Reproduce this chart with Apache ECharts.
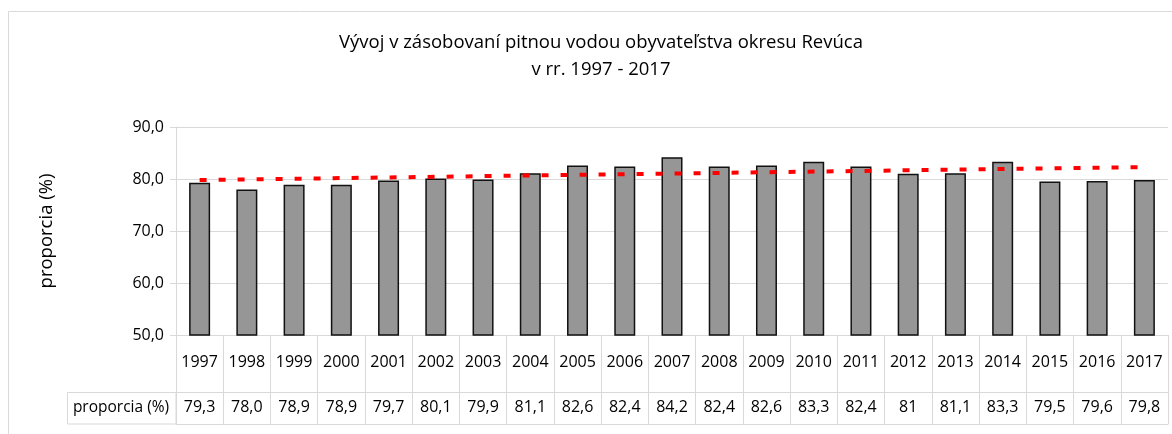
<!DOCTYPE html>
<html><head><meta charset="utf-8">
<script src="https://cdn.jsdelivr.net/npm/echarts@6/dist/echarts.min.js"></script>
<style>html,body{margin:0;padding:0;background:#fff}#c{width:1172px;height:434px}</style>
</head><body><div id="c"></div>
<script>
var years = ['1997','1998','1999','2000','2001','2002','2003','2004','2005','2006','2007','2008','2009','2010','2011','2012','2013','2014','2015','2016','2017'];
var values = [79.3,78.0,78.9,78.9,79.7,80.1,79.9,81.1,82.6,82.4,84.2,82.4,82.6,83.3,82.4,81,81.1,83.3,79.5,79.6,79.8];
var valueLabels = ['79,3','78,0','78,9','78,9','79,7','80,1','79,9','81,1','82,6','82,4','84,2','82,4','82,6','83,3','82,4','81','81,1','83,3','79,5','79,6','79,8'];
var trendStart = 79.8;
var trendEnd = 82.3;
var yTicks = [50, 60, 70, 80, 90];
var seriesName = 'proporcia (%)';
var titleText = 'Vývoj v zásobovaní pitnou vodou obyvateľstva okresu Revúca\nv rr. 1997 - 2017';

var trend = years.map(function(_, i){ return i === 0 ? trendStart : (i === years.length - 1 ? trendEnd : null); });
var FONT = 'Open Sans';
var grey = '#d9d9d9';
var chart = echarts.init(document.getElementById('c'));
chart.setOption({
  animation: false,
  textStyle: {fontFamily: FONT},
  title: {text: titleText, left: 596, top: 24, textAlign: 'center',
    textStyle: {fontFamily: FONT, fontSize: 18.5, fontWeight: 'normal', color: '#000', lineHeight: 27}},
  grid: {left: 176, right: 4, top: 127, bottom: 99},
  xAxis: [
    {type: 'category', data: years, position: 'bottom',
     axisLine: {show: true, lineStyle: {color: grey, width: 1}},
     axisTick: {show: true, interval: 0, length: 57, lineStyle: {color: grey}},
     axisLabel: {interval: 0, margin: 19, fontSize: 16, color: '#000', fontFamily: FONT}},
    {type: 'category', data: valueLabels, position: 'bottom', offset: 57,
     axisLine: {show: true, lineStyle: {color: grey, width: 1}},
     axisTick: {show: true, interval: 0, length: 32, lineStyle: {color: grey}},
     axisLabel: {interval: 0, margin: 7, fontSize: 16, color: '#000', fontFamily: FONT}},
    {type: 'category', data: years, position: 'bottom', offset: 89,
     axisLine: {show: true, lineStyle: {color: grey, width: 1}},
     axisTick: {show: false}, axisLabel: {show: false}}
  ],
  yAxis: {type: 'value', min: yTicks[0], max: yTicks[yTicks.length-1], interval: 10,
    name: seriesName, nameLocation: 'middle', nameGap: 120,
    nameTextStyle: {fontSize: 18.5, color: '#000', fontFamily: FONT},
    axisLine: {show: true, lineStyle: {color: grey}},
    axisTick: {show: true, length: 6, lineStyle: {color: grey}},
    axisLabel: {fontSize: 16, color: '#000', margin: 12, fontFamily: FONT,
      formatter: function(v){ return v.toFixed(1).replace('.', ','); }},
    splitLine: {show: true, lineStyle: {color: grey, width: 1}}},
  series: [
    {name: seriesName, type: 'bar', data: values, xAxisIndex: 0, barWidth: 21,
     itemStyle: {color: '#969696', borderColor: '#111', borderWidth: 1.5}},
    {name: 'trend', type: 'line', data: trend, xAxisIndex: 0, connectNulls: true,
     symbol: 'none', lineStyle: {color: '#ff0000', width: 4, type: [7, 12]}, z: 5}
  ],
  graphic: [
    {type: 'rect', shape: {x: 8.5, y: 11.5, width: 1200, height: 440}, silent: true,
     style: {fill: 'none', stroke: grey, lineWidth: 1}},
    {type: 'rect', shape: {x: 67.5, y: 392.5, width: 108.5, height: 31.5}, silent: true,
     style: {fill: 'none', stroke: grey, lineWidth: 1}},
    {type: 'text', x: 121, y: 408, silent: true,
     style: {text: seriesName, fontSize: 15.5, fontFamily: FONT, fill: '#000', align: 'center', verticalAlign: 'middle'}}
  ]
});
</script></body></html>
